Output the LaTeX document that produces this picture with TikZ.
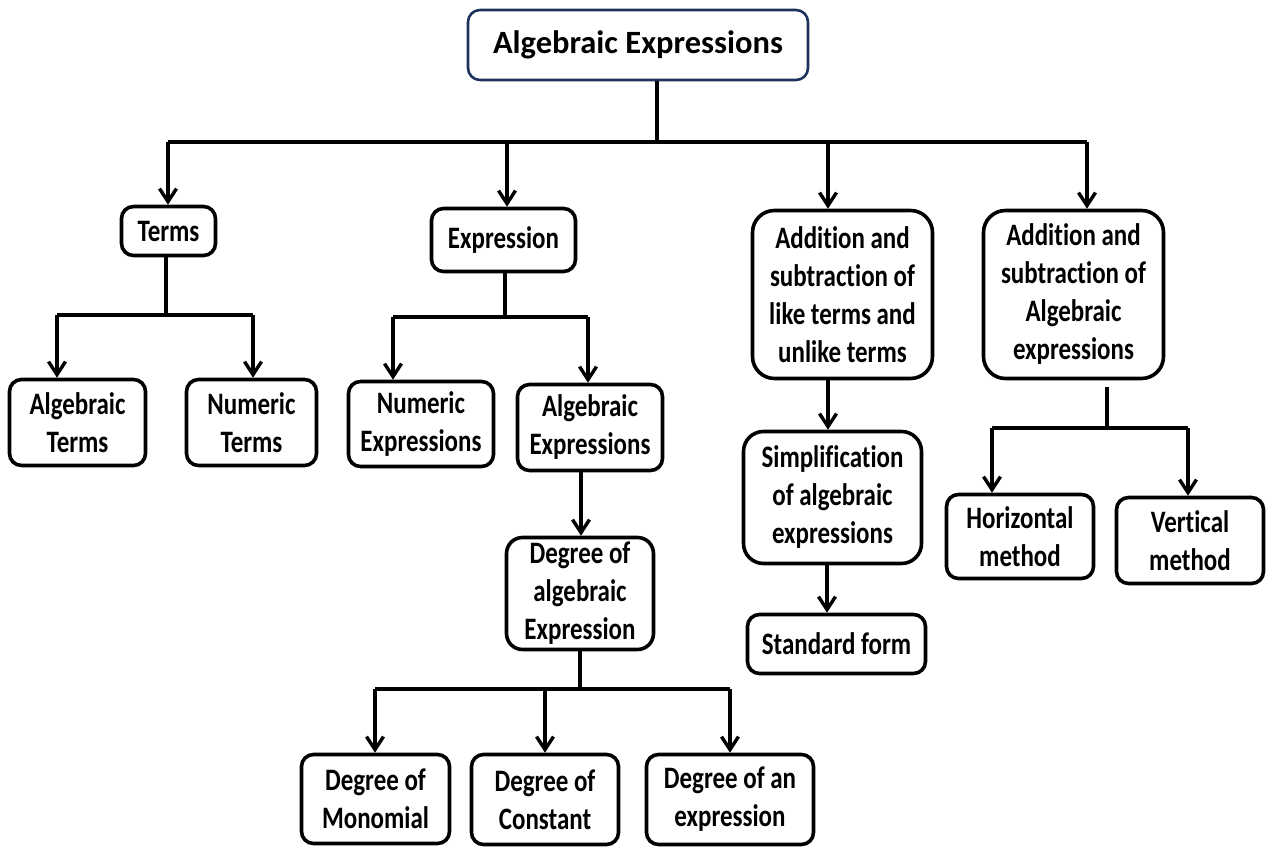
\documentclass[tikz,border=0pt]{standalone}
\usepackage{fontspec}
\setmainfont{Carlito}[FakeStretch=0.8, Ligatures=NoCommon]
\newfontfamily\titlefont{Carlito}[Ligatures=NoCommon]
\usetikzlibrary{arrows.meta}
\definecolor{navy}{RGB}{28,50,92}
\begin{document}
\begin{tikzpicture}[x=1pt,y=-1pt,
  box/.style={draw, line width=3.6pt, rounded corners=12pt, align=center,
    inner sep=0pt, font=\fontsize{31.2}{38}\selectfont\bfseries},
  bigbox/.style={box, rounded corners=22pt},
  link/.style={line width=3.4pt},
  arr/.style={link, -{Straight Barb[length=13pt,width=17pt]}},
]
\useasboundingbox (0,0) rectangle (1266,850);

% root
\node[draw=navy, line width=2.6pt, rounded corners=12pt, inner sep=0pt,
  minimum width=340pt, minimum height=70pt,
  font=\titlefont\fontsize{32.5}{38}\selectfont\bfseries] (root) at (638,45) {Algebraic Expressions};

% first level
\node[box, minimum width=94pt, minimum height=49pt] (terms) at (168.5,231) {Terms};
\node[box, minimum width=144pt, minimum height=63pt] (expr) at (503.5,240) {Expression};
\node[bigbox, minimum width=180pt, minimum height=168pt] (add1) at (842.5,294.5)
  {Addition and\\subtraction of\\like terms and\\unlike terms};
\node[bigbox, minimum width=180pt, minimum height=168pt] (add2) at (1073.5,294.5)
  {Addition and\\subtraction of\\Algebraic\\expressions};

% under Terms
\node[box, minimum width=136pt, minimum height=86pt] (algterms) at (77.5,422.5) {Algebraic\\Terms};
\node[box, minimum width=130pt, minimum height=86pt] (numterms) at (251.5,422.5) {Numeric\\Terms};

% under Expression
\node[box, minimum width=145pt, minimum height=85pt] (numexpr) at (421,424) {Numeric\\Expressions};
\node[box, minimum width=145pt, minimum height=86pt] (algexpr) at (590,427.5) {Algebraic\\Expressions};
\node[box, rounded corners=16pt, minimum width=147pt, minimum height=112pt] (degree) at (580,593.5)
  {Degree of\\algebraic\\Expression};
\node[box, minimum width=148pt, minimum height=89pt] (degmono) at (375.5,799) {Degree of\\Monomial};
\node[box, minimum width=147pt, minimum height=90pt] (degconst) at (545,799.5) {Degree of\\Constant};
\node[box, minimum width=167pt, minimum height=90pt] (degexp) at (730,799.5) {Degree of an\\expression};

% under the first Addition box
\node[box, rounded corners=20pt, minimum width=178pt, minimum height=132pt] (simp) at (832.5,497.5)
  {Simplification\\of algebraic\\expressions};
\node[box, minimum width=178pt, minimum height=59pt] (stdform) at (836.5,644) {Standard form};

% under the second Addition box
\node[box, minimum width=147pt, minimum height=84pt] (horiz) at (1020,536.5) {Horizontal\\method};
\node[box, minimum width=147pt, minimum height=86pt] (vert) at (1190,540.5) {Vertical\\method};

% root bus
\coordinate (r0) at (657,142);
\coordinate (r1) at (168,142);
\coordinate (r2) at (507,142);
\coordinate (r3) at (828,142);
\coordinate (r4) at (1087,142);
\draw[link] (root.south -| r0) -- (r0);
\draw[link] (r1) -- (r4);
\draw[arr] (r1) -- (r1 |- terms.north);
\draw[arr] (r2) -- (r2 |- expr.north);
\draw[arr] (r3) -- (r3 |- add1.north);
\draw[arr] (r4) -- (r4 |- add2.north);

% Terms bus
\coordinate (t0) at (166,315);
\coordinate (t1) at (57,315);
\coordinate (t2) at (253,315);
\draw[link] (terms.south -| t0) -- (t0);
\draw[link] (t1) -- (t2);
\draw[arr] (t1) -- (t1 |- algterms.north);
\draw[arr] (t2) -- (t2 |- numterms.north);

% Expression bus
\coordinate (e0) at (505,317);
\coordinate (e1) at (393,317);
\coordinate (e2) at (588,317);
\draw[link] (expr.south -| e0) -- (e0);
\draw[link] (e1) -- (e2);
\draw[arr] (e1) -- (e1 |- numexpr.north);
\draw[arr] (e2) -- (e2 |- algexpr.north);

% Algebraic Expressions to Degree
\coordinate (g0) at (581,0);
\draw[arr] (algexpr.south -| g0) -- (degree.north -| g0);

% Degree bus
\coordinate (d0) at (580,689);
\coordinate (d1) at (375,689);
\coordinate (d2) at (545,689);
\coordinate (d3) at (730,689);
\draw[link] (degree.south -| d0) -- (d0);
\draw[link] (d1) -- (d3);
\draw[arr] (d1) -- (d1 |- degmono.north);
\draw[arr] (d2) -- (d2 |- degconst.north);
\draw[arr] (d3) -- (d3 |- degexp.north);

% first Addition chain
\coordinate (a0) at (828,0);
\coordinate (s0) at (827,0);
\draw[arr] (add1.south -| a0) -- (simp.north -| a0);
\draw[arr] (simp.south -| s0) -- (stdform.north -| s0);

% second Addition bus
\coordinate (h0) at (1107,428);
\coordinate (h1) at (992,428);
\coordinate (h2) at (1188,428);
\draw[link] ([yshift=-7pt]add2.south -| h0) -- (h0);
\draw[link] (h1) -- (h2);
\draw[arr] (h1) -- (h1 |- horiz.north);
\draw[arr] (h2) -- (h2 |- vert.north);
\end{tikzpicture}
\end{document}
